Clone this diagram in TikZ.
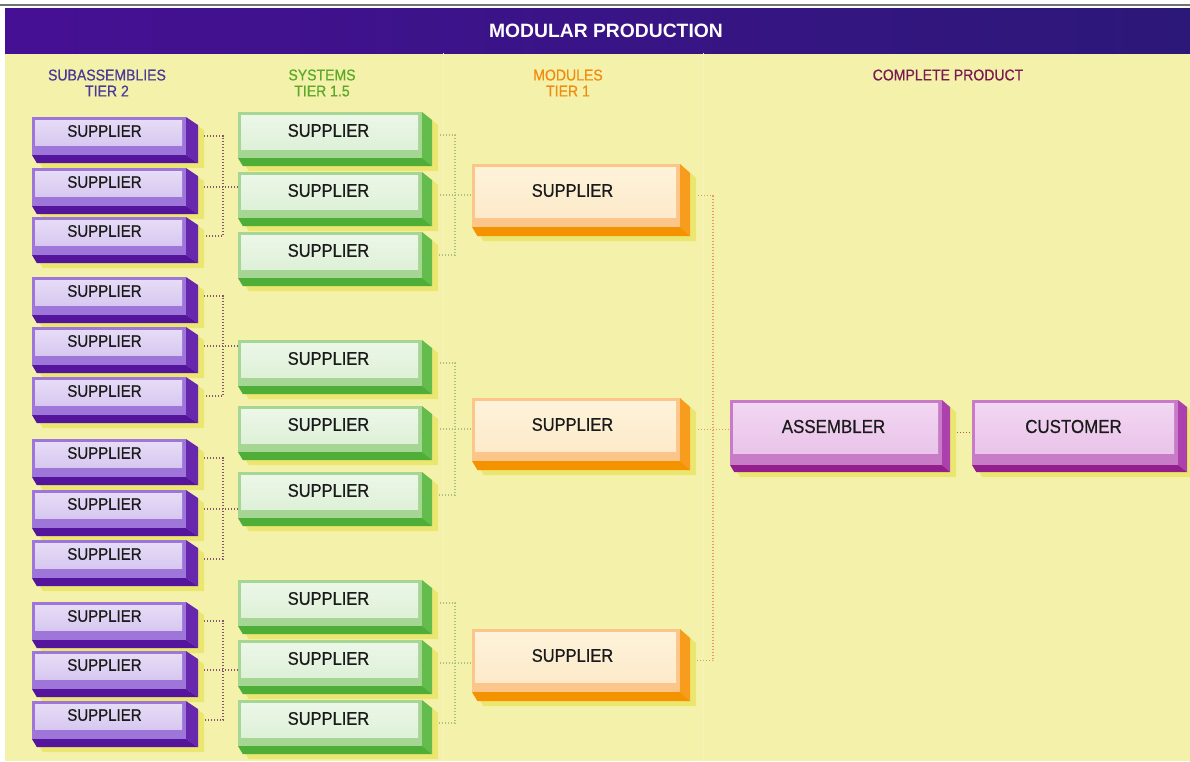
\documentclass[tikz,border=0pt]{standalone}
\usepackage{fontspec}
\setmainfont{Liberation Sans}[FakeStretch=0.9, FakeBold=0.6]
\newfontfamily\titlefont{Liberation Sans}
\usetikzlibrary{calc}
\pgfdeclarelayer{back}
\pgfdeclarelayer{wires}
\pgfsetlayers{back,wires,main}

\definecolor{bgyellow}{RGB}{244,242,170}
\definecolor{shadowc}{RGB}{234,230,112}
\definecolor{barL}{RGB}{70,16,148}
\definecolor{barR}{RGB}{44,24,120}
% purple tier
\definecolor{pupanel}{RGB}{230,220,246}
\definecolor{pufront}{RGB}{158,118,218}
\definecolor{puside}{RGB}{104,40,174}
\definecolor{pubot}{RGB}{84,20,156}
% green tier
\definecolor{grpanel}{RGB}{236,247,232}
\definecolor{grfront}{RGB}{166,214,148}
\definecolor{grside}{RGB}{100,188,76}
\definecolor{grbot}{RGB}{78,174,56}
% orange tier
\definecolor{orpanel}{RGB}{253,243,218}
\definecolor{orfront}{RGB}{252,198,138}
\definecolor{orside}{RGB}{247,156,28}
\definecolor{orbot}{RGB}{244,146,0}
% magenta tier
\definecolor{mapanel}{RGB}{242,214,242}
\definecolor{mafront}{RGB}{200,124,200}
\definecolor{maside}{RGB}{172,64,172}
\definecolor{mabot}{RGB}{148,30,140}
% headers and wires
\definecolor{hdrpu}{RGB}{74,58,150}
\definecolor{hdrgr}{RGB}{92,168,40}
\definecolor{hdror}{RGB}{240,140,16}
\definecolor{hdrma}{RGB}{122,26,80}
\definecolor{wirepu}{RGB}{132,84,108}
\definecolor{wiregr}{RGB}{168,192,124}
\definecolor{wireor}{RGB}{230,150,104}
\definecolor{wirema}{RGB}{176,82,70}
\definecolor{txt}{RGB}{26,26,26}

\tikzset{
  lbl/.style={inner sep=0pt, text=txt},
  putxt/.style={font=\fontsize{16.7}{19}\selectfont},
  grtxt/.style={font=\fontsize{18.3}{20}\selectfont},
  ortxt/.style={font=\fontsize{18.3}{20}\selectfont},
  matxt/.style={font=\fontsize{18.8}{21}\selectfont},
  hdr/.style={align=center, inner sep=0pt, font=\fontsize{15.6}{16}\selectfont},
  wire/.style={line width=1.1pt, dash pattern=on 1.3pt off 1.7pt},
  pc/.style={wire, draw=wirepu},
  gc/.style={wire, draw=wiregr},
  oc/.style={wire, draw=wireor},
  mc/.style={wire, draw=wirema},
}

% #1 name #2 tier #3 xa #4 xb #5 depth #6 top #7 panel bottom #8 front bottom #9 block bottom
\newcommand\blk[9]{%
  \pgfmathsetmacro\xa{#3}\pgfmathsetmacro\xb{#4}\pgfmathsetmacro\dd{#5}%
  \pgfmathsetmacro\yt{#6}\pgfmathsetmacro\yp{#7}\pgfmathsetmacro\ym{#8}\pgfmathsetmacro\yb{#9}%
  \pgfmathsetmacro\ee{\yb-\ym}%
  \pgfmathsetmacro\ww{\xb-\xa}\pgfmathsetmacro\hh{\ym-\yt}%
  \fill[shadowc] (\xa+6,\yt+5) -- (\xb+6,\yt+5) -- (\xb+\dd+6,\yt+\ee+5) -- (\xb+\dd+6,\yb+5)
     -- (\xa+0.6*\ee+6,\yb+5) -- (\xa+6,\ym+5) -- cycle;
  \node[inner sep=0pt, outer sep=0pt, minimum width=\ww pt, minimum height=\hh pt,
        fill=#2front, anchor=north west] (#1) at (\xa,\yt) {};
  \shade[top color=#2panel, bottom color=#2panel!80!#2front] (\xa+3,\yt+3) rectangle (\xb-4,\yp);
  \fill[#2side] (\xb,\yt) -- (\xb+\dd,\yt+\ee) -- (\xb+\dd,\yb) -- (\xb,\ym) -- cycle;
  \fill[#2bot] (\xa,\ym) -- (\xb,\ym) -- (\xb+\dd,\yb) -- (\xa+0.6*\ee,\yb) -- cycle;
}
% #1 name #2 tier #3 x offset #4 text
\newcommand\lbl[4]{\node[lbl, #2txt] (#1t) at ({(\xa+\xb-1)/2+#3},{(\yt+\yp)/2}) {#4};}

\newcommand\pu[2]{\blk{#1}{pu}{32}{186}{12}{#2-15}{#2+13}{#2+23}{#2+31}\lbl{#1}{pu}{-4}{SUPPLIER}}
\newcommand\gr[2]{\blk{#1}{gr}{238}{422}{10}{#2-17}{#2+20}{#2+29}{#2+37}\lbl{#1}{gr}{-1}{SUPPLIER}}
\newcommand\orr[2]{\blk{#1}{or}{472}{680}{10}{#2-26}{#2+27}{#2+37}{#2+46}\lbl{#1}{or}{-3}{SUPPLIER}}

% three sources joined, middle one fed on to a target
\newcommand\trio[6]{%
  \begin{pgfonlayer}{wires}
  \draw[#6] (#1.east) -- (#1.east -| #5) -- (#3.east -| #5) -- (#3.east);
  \draw[#6] (#2.east) -- (#2.east -| #4.west);
  \end{pgfonlayer}}

\begin{document}
\begin{tikzpicture}[x=1pt, y=-1pt]
\useasboundingbox (0,0) rectangle (1190,761);
\begin{pgfonlayer}{back}
  \fill[white] (0,0) rectangle (1190,761);
  \fill[bgyellow] (5,53) rectangle (1190,761);
  \draw[black!55, line width=1.4pt] (0,5) -- (1190,5);
  \shade[left color=barL, right color=barR] (5,8) rectangle (1190,53);
  \draw[bgyellow!85!white, line width=1pt] (443,53) -- (443,761);
  \draw[bgyellow!85!white, line width=1pt] (703,53) -- (703,761);
\end{pgfonlayer}

\node[inner sep=0pt, text=white, font=\titlefont\bfseries\fontsize{19.3}{22}\selectfont] (title) at (606,31) {MODULAR PRODUCTION};

\node[hdr, text=hdrpu] (h1) at (107,83) {SUBASSEMBLIES\\TIER 2};
\node[hdr, text=hdrgr] (h2) at (322,83) {SYSTEMS\\TIER 1.5};
\node[hdr, text=hdror] (h3) at (568,83) {MODULES\\TIER 1};
\node[hdr, text=hdrma] (h4) at (948,75) {COMPLETE PRODUCT};

% tier 2
\pu{p1}{132}\pu{p2}{183}\pu{p3}{232}
\pu{p4}{292}\pu{p5}{342}\pu{p6}{392}
\pu{p7}{454}\pu{p8}{505}\pu{p9}{555}
\pu{p10}{617}\pu{p11}{666}\pu{p12}{716}
% tier 1.5
\gr{g1}{129}\gr{g2}{189}\gr{g3}{249}
\gr{g4}{357}\gr{g5}{423}\gr{g6}{489}
\gr{g7}{597}\gr{g8}{657}\gr{g9}{717}
% tier 1
\orr{o1}{190}\orr{o2}{424}\orr{o3}{655}
% assembler and customer
\blk{asm}{ma}{730}{942}{8}{400}{453}{465}{472}\lbl{asm}{ma}{-2}{ASSEMBLER}
\blk{cust}{ma}{972}{1178}{9}{400}{453}{465}{472}\lbl{cust}{ma}{-1}{CUSTOMER}

\coordinate (v1) at (223,0);
\coordinate (v2) at (455,0);
\coordinate (v3) at (713,0);

\trio{p1}{p2}{p3}{g2}{v1}{pc}
\trio{p4}{p5}{p6}{g4}{v1}{pc}
\trio{p7}{p8}{p9}{g6}{v1}{pc}
\trio{p10}{p11}{p12}{g8}{v1}{pc}
\trio{g1}{g2}{g3}{o1}{v2}{gc}
\trio{g4}{g5}{g6}{o2}{v2}{gc}
\trio{g7}{g8}{g9}{o3}{v2}{gc}
\trio{o1}{o2}{o3}{asm}{v3}{oc}
\begin{pgfonlayer}{wires}
  \draw[mc] (asm.east) -- (cust.west);
\end{pgfonlayer}
\end{tikzpicture}
\end{document}
